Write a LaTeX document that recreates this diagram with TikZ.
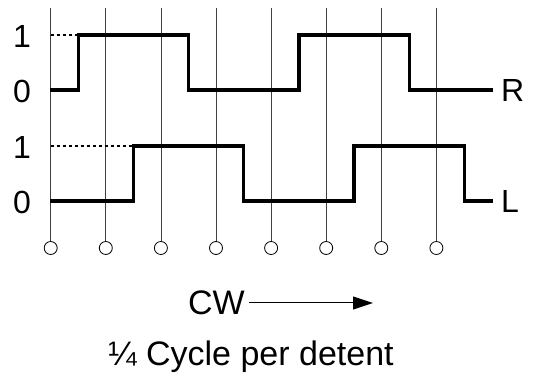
\documentclass[tikz,border=0pt]{standalone}
\usepackage{fontspec}
\setmainfont{Liberation Sans}
\usetikzlibrary{arrows.meta}
\begin{document}
\begin{tikzpicture}[x=1pt,y=-1pt,
  grid/.style={draw=black!75,line width=0.8pt},
  pin/.style={circle,draw=black,line width=0.8pt,fill=white,minimum size=13pt,inner sep=0pt},
  wave/.style={line width=3.2pt,line cap=butt,line join=miter},
  lvl/.style={dashed,line width=1.2pt,dash pattern=on 3pt off 3pt},
  lbl/.style={font=\fontsize{32}{34}\selectfont,inner sep=0pt}]
\useasboundingbox (0,0) rectangle (541,379);
% vertical lines and pins
\foreach \i in {0,...,7}{
  \coordinate (t\i) at ({50.7+55.1*\i},8);
  \node[pin] (p\i) at ({50.7+55.1*\i},248) {};
  \draw[grid] (t\i) -- (p\i.north);
}
% level labels
\node[lbl] (r1) at (22,36) {1};
\node[lbl] (r0) at (22,91) {0};
\node[lbl] (l1) at (22,147) {1};
\node[lbl] (l0) at (22,202) {0};
% dashed level lines
\draw[lvl] (50.7,35) -- (78.3,35);
\draw[lvl] (50.7,146) -- (133.4,146);
% R waveform
\draw[wave] (49.5,90) -- (78.3,90) -- (78.3,35) -- (188.5,35) -- (188.5,90) -- (298.9,90) -- (298.9,35) -- (409.1,35) -- (409.1,90) -- (493,90);
% L waveform
\draw[wave] (49.5,201) -- (133.4,201) -- (133.4,146) -- (243.6,146) -- (243.6,201) -- (354,201) -- (354,146) -- (464.2,146) -- (464.2,201) -- (493,201);
\node[lbl,anchor=west] (R) at (501,90) {R};
\node[lbl,anchor=west] (L) at (501,201) {L};
% CW arrow
\node[lbl,font=\fontsize{34}{36}\selectfont,anchor=east] (cw) at (245,303) {CW};
\coordinate (ae) at (373,303);
\draw[line width=1pt,-{Triangle[length=20pt,width=13pt]}] (cw.east) ++(4,0) -- (ae);
\node[font=\fontsize{34}{36}\selectfont,inner sep=0pt] (cap) at (251,357) {¼ Cycle per detent};
\end{tikzpicture}
\end{document}
